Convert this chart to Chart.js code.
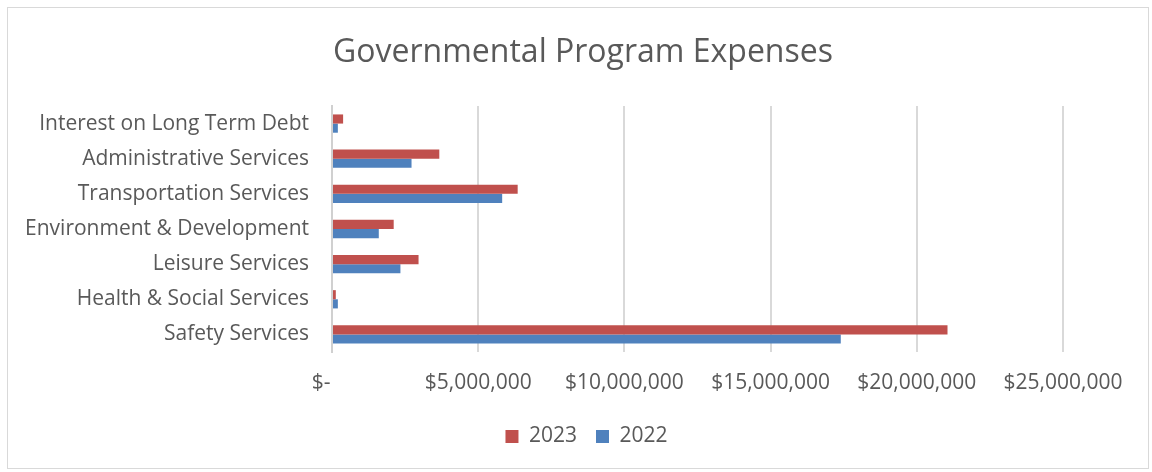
<!DOCTYPE html>
<html>
<head>
<meta charset="utf-8">
<script src="https://cdn.jsdelivr.net/npm/chart.js"></script>
<style>
  html, body { margin: 0; padding: 0; background: #fff; }
  #wrap { position: relative; width: 1152px; height: 472px; }
  #frame { position: absolute; left: 7px; top: 7px; width: 1142px; height: 462px; border: 1px solid #d9d9d9; box-sizing: border-box; pointer-events: none; }
</style>
</head>
<body>
<div id="wrap">
  <canvas id="chart" width="1152" height="472"></canvas>
  <div id="frame"></div>
</div>
<script>
    const categories = ['Interest on Long Term Debt', 'Administrative Services', 'Transportation Services',
        'Environment & Development', 'Leisure Services', 'Health & Social Services', 'Safety Services'];
    const expenses2023 = [380000, 3670000, 6350000, 2110000, 2960000, 130000, 21050000];
    const expenses2022 = [200000, 2720000, 5820000, 1600000, 2340000, 200000, 17400000];
    const xTicks = [0, 5000000, 10000000, 15000000, 20000000, 25000000];
    const titleText = 'Governmental Program Expenses';

    const font = '"Open Sans", sans-serif';
    const grey = '#595959';

    // title is centred on the whole frame, not on the padded layout box
    const pageTitle = {
        id: 'pageTitle',
        afterLayout(chart) {
            // legend sits centred on the page too
            chart.legend.left += 45;
            chart.legend.right += 45;
        },
        afterDraw(chart) {
            const c = chart.ctx;
            c.save();
            c.font = '32px ' + font;
            c.fillStyle = grey;
            c.textAlign = 'center';
            c.textBaseline = 'alphabetic';
            c.fillText(titleText, 583, 62);
            c.restore();
        }
    };

    const ctx = document.getElementById('chart').getContext('2d');
    const myChart = new Chart(ctx, {
        type: 'bar',
        data: {
            labels: categories,
            datasets: [
                { label: '2023', data: expenses2023, backgroundColor: '#C0504D' },
                { label: '2022', data: expenses2022, backgroundColor: '#4F81BD' }
            ]
        },
        plugins: [pageTitle],
        options: {
            indexAxis: 'y',
            responsive: false,
            animation: false,
            layout: { padding: { left: 20, right: 89, top: 106, bottom: 15 } },
            datasets: { bar: { categoryPercentage: 0.52, barPercentage: 1.0 } },
            plugins: {
                legend: {
                    position: 'bottom',
                    labels: {
                        color: grey,
                        font: { family: font, size: 21 },
                        boxWidth: 13, boxHeight: 13, padding: 19
                    }
                },
                tooltip: { enabled: false }
            },
            scales: {
                x: {
                    min: 0, max: 25000000,
                    afterBuildTicks: s => { s.ticks = xTicks.map(v => ({ value: v })); },
                    afterFit: s => { s.height = 55; },
                    grid: { color: '#d9d9d9', lineWidth: 2, drawTicks: false },
                    border: { display: false },
                    ticks: {
                        color: grey, padding: 18,
                        font: { family: font, size: 21 },
                        callback: v => v === 0 ? '$-    ' : '$' + v.toLocaleString('en-US')
                    }
                },
                y: {
                    afterFit: s => { s.width = 312; },
                    grid: { display: false, drawTicks: false },
                    border: { display: true, color: '#d0d0d0', width: 2 },
                    ticks: { color: grey, padding: 23, font: { family: font, size: 21 } }
                }
            }
        }
    });
</script>
</body>
</html>
